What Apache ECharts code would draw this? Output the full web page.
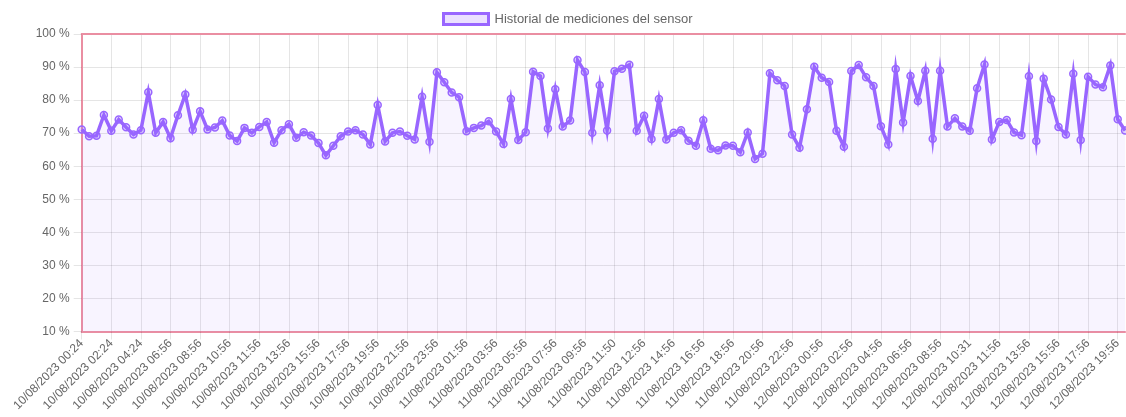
<!DOCTYPE html>
<html>
<head>
<meta charset="utf-8">
<script src="https://cdn.jsdelivr.net/npm/echarts@6/dist/echarts.min.js"></script>
<style>
html,body{margin:0;padding:0;background:#fff;}
#chart{width:1126px;height:417px;}
</style>
</head>
<body>
<div id="chart"></div>
<script>
// Times of each reading, per day
const times10 = ["00:24","00:54","01:24","01:54","02:24","02:54","03:24","03:54","04:24","05:02","05:40","06:18","06:56","07:26","07:56","08:26","08:56","09:26","09:56","10:26","10:56","11:11","11:26","11:41","11:56","12:26","12:56","13:26","13:56","14:26","14:56","15:26","15:56","16:26","16:56","17:26","17:56","18:26","18:56","19:26","19:56","20:26","20:56","21:26","21:56","22:26","22:56","23:26","23:56"];
const times11 = ["00:26","00:56","01:26","01:56","02:26","02:56","03:26","03:56","04:26","04:56","05:26","05:56","06:26","06:56","07:26","07:56","08:26","08:56","09:26","09:56","10:26","10:56","11:26","11:50","12:06","12:23","12:40","12:56","13:26","13:56","14:26","14:56","15:26","15:56","16:26","16:56","17:26","17:56","18:26","18:56","19:26","19:56","20:26","20:56","21:26","21:56","22:26","22:56","23:26","23:56"];
const times12 = ["00:26","00:56","01:26","01:56","02:26","02:56","03:26","03:56","04:26","04:56","05:26","05:56","06:26","06:56","07:26","07:56","08:26","08:56","09:20","09:44","10:08","10:31","10:56","11:16","11:36","11:56","12:26","12:56","13:26","13:56","14:26","14:56","15:26","15:56","16:26","16:56","17:26","17:56","18:26","18:56","19:26","19:56","20:26"];

// Sensor readings (%)
const values = [
71.1,69.1,69.2,75.5,70.7,74.1,71.8,69.6,70.9,82.4,
70.1,73.4,68.5,75.4,81.7,71.0,76.6,71.1,71.7,73.8,
69.3,67.6,71.6,70.1,71.9,73.4,67.1,70.9,72.7,68.6,
70.3,69.3,67.0,63.3,66.2,69.1,70.5,70.9,69.6,66.6,
78.5,67.5,70.1,70.5,69.2,68.1,81.0,67.4,88.4,85.4,
82.3,80.9,70.6,71.6,72.3,73.6,70.5,66.7,80.3,67.9,
70.3,88.6,87.3,71.4,83.3,72.0,73.8,92.1,88.5,70.1,
84.5,70.8,88.7,89.5,90.7,70.7,75.3,68.2,80.3,68.1,
70.1,70.9,67.7,66.2,73.9,65.3,64.8,66.3,66.2,64.2,
70.2,62.2,63.8,88.1,86.0,84.3,69.6,65.6,77.2,90.1,
86.8,85.5,70.7,65.9,88.8,90.6,86.9,84.3,72.1,66.6,
89.4,73.2,87.3,79.7,88.9,68.3,88.9,72.0,74.5,72.0,
70.7,83.6,90.8,68.1,73.4,74.0,70.2,69.4,87.2,67.6,
86.5,80.2,71.9,69.6,88.0,67.9,87.1,84.7,83.9,90.5,
74.2,70.8
];

const seriesName = "Historial de mediciones del sensor";

const categories = []
  .concat(times10.map(t => "10/08/2023 " + t))
  .concat(times11.map(t => "11/08/2023 " + t))
  .concat(times12.map(t => "12/08/2023 " + t));

const PURPLE = "#9966ff";
const BORDER = "#ea8ea2";
const GRID = "rgba(0,0,0,0.1)";
const FONT = "'Liberation Sans', Arial, sans-serif";

const chart = echarts.init(document.getElementById('chart'), null, {renderer: 'canvas'});
chart.setOption({
  animation: false,
  textStyle: {fontFamily: FONT},
  legend: {
    left: 442, top: 12, padding: 0,
    icon: 'rect',
    itemWidth: 45, itemHeight: 11, itemGap: 10,
    itemStyle: {color: 'rgba(153,102,255,0.2)', borderColor: PURPLE, borderWidth: 3},
    lineStyle: {width: 0},
    textStyle: {color: '#666', fontSize: 13, fontFamily: FONT, padding: [0,0,0,1]},
    data: [seriesName]
  },
  grid: {left: 81.7, top: 34, right: 0.9, bottom: 85.5, show: false},
  xAxis: [{
    type: 'category',
    data: categories,
    boundaryGap: false,
    axisLine: {show: true, lineStyle: {color: BORDER, width: 2}},
    axisTick: {show: true, interval: 3, length: 8, lineStyle: {color: GRID}},
    axisLabel: {interval: 3, rotate: 45, margin: 10, color: '#666', fontSize: 12, fontFamily: FONT},
    splitLine: {show: true, interval: 3, lineStyle: {color: GRID}}
  }, {
    type: 'category',
    data: categories,
    position: 'top',
    boundaryGap: false,
    axisLine: {show: true, lineStyle: {color: BORDER, width: 2}},
    axisTick: {show: false},
    axisLabel: {show: false},
    splitLine: {show: false}
  }],
  yAxis: {
    type: 'value',
    min: 10, max: 100, interval: 10,
    axisLine: {show: true, lineStyle: {color: BORDER, width: 2}},
    axisTick: {show: true, length: 8, lineStyle: {color: GRID}},
    axisLabel: {formatter: '{value} %', margin: 12, color: '#666', fontSize: 12, fontFamily: FONT},
    splitLine: {show: true, lineStyle: {color: GRID}}
  },
  series: [{
    name: seriesName,
    type: 'line',
    data: values,
    symbol: 'circle',
    symbolSize: 7,
    showAllSymbol: true,
    lineStyle: {color: PURPLE, width: 3.5, join: 'miter', miterLimit: 10},
    itemStyle: {color: 'rgba(153,102,255,0.25)', borderColor: PURPLE, borderWidth: 1.5},
    areaStyle: {color: 'rgba(153,102,255,0.1)', origin: 'start'},
    z: 3
  }]
});
</script>
</body>
</html>
